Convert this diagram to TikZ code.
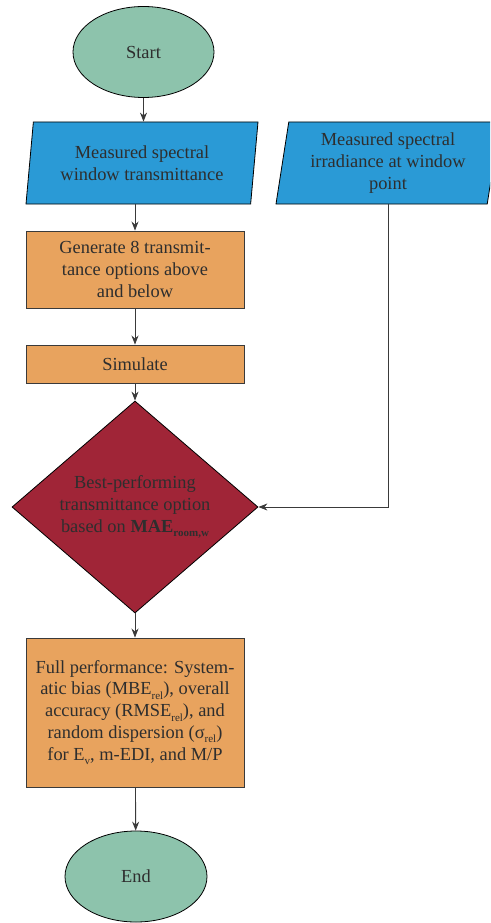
\documentclass[tikz,border=0pt]{standalone}
\usepackage{fontspec}
\setmainfont{Liberation Serif}
\usetikzlibrary{shapes.geometric,arrows.meta}
\definecolor{termgreen}{HTML}{8DC3AC}
\definecolor{inputblue}{HTML}{2A9AD6}
\definecolor{procorange}{HTML}{E8A35E}
\definecolor{decisionred}{HTML}{A02537}
\definecolor{edgegray}{HTML}{3A3A3A}
\definecolor{textgray}{HTML}{2E2E2E}
% deep, small subscript
\newcommand{\lowsub}[1]{\raisebox{-4.5pt}{\fontsize{11}{11}\selectfont #1}}

\begin{document}
\begin{tikzpicture}[x=1pt, y=-1pt, >={Stealth[length=9pt,width=7pt]},
font=\fontsize{18.4}{21.7}\selectfont, text=textgray,
terminal/.style={ellipse, draw=black, fill=termgreen, line width=.8pt, minimum width=141pt, minimum height=91pt},
data/.style={trapezium, trapezium left angle=78, trapezium right angle=102, trapezium stretches body,
  draw=black, fill=inputblue, line width=.8pt, minimum height=82pt, inner sep=0pt, align=center},
process/.style={rectangle, draw=edgegray, fill=procorange, line width=.9pt, minimum width=218pt, align=center},
decision/.style={diamond, draw=black, fill=decisionred, line width=.8pt, aspect=1.16,
  minimum width=246pt, minimum height=212pt, inner sep=0pt, align=center},
flow/.style={->, draw=edgegray, line width=.9pt},
]

%%%%%%%% PAGE %%%%%%%%
\useasboundingbox (0,0) rectangle (490,923);
\clip (0,0) rectangle (490,923);

%%%%%%%% NODES %%%%%%%%
\node[terminal] (start) at (143.5,52) {Start};
\node[data, minimum width=232pt] (window) at (142,163) {Measured spectral\\window transmittance};
\node[data, minimum width=224pt] (irrad) at (388,163) {Measured spectral\\irradiance at window\\point};
\node[process, minimum height=77pt] (gen) at (135,269.5) {Generate 8 transmit-\\tance options above\\and below};
\node[process, minimum height=38pt] (sim) at (135,364) {Simulate};
\node[decision] (best) at (135,507) {Best-performing\\transmittance option\\based on \textbf{MAE}\lowsub{\textbf{room,w}}};
\node[process, minimum height=149pt] (full) at (135,712.5) {Full performance: System-\\atic bias (MBE\lowsub{rel}), overall\\accuracy (RMSE\lowsub{rel}), and\\random dispersion (σ\lowsub{rel})\\for E\lowsub{v}, m-EDI, and M/P};
\node[terminal, minimum width=142pt] (end) at (136,876.5) {End};

%%%%%%%% ARROWS %%%%%%%%
\draw[flow] (start.south) -- (start.south |- window.north);
\draw[flow] (gen.north |- window.south) -- (gen.north);
\draw[flow] (gen) -- (sim);
\draw[flow] (sim) -- (best);
\draw[flow] (irrad.south) |- (best.east);
\draw[flow] (best) -- (full);
\draw[flow] (full) -- (end);
\end{tikzpicture}
\end{document}
